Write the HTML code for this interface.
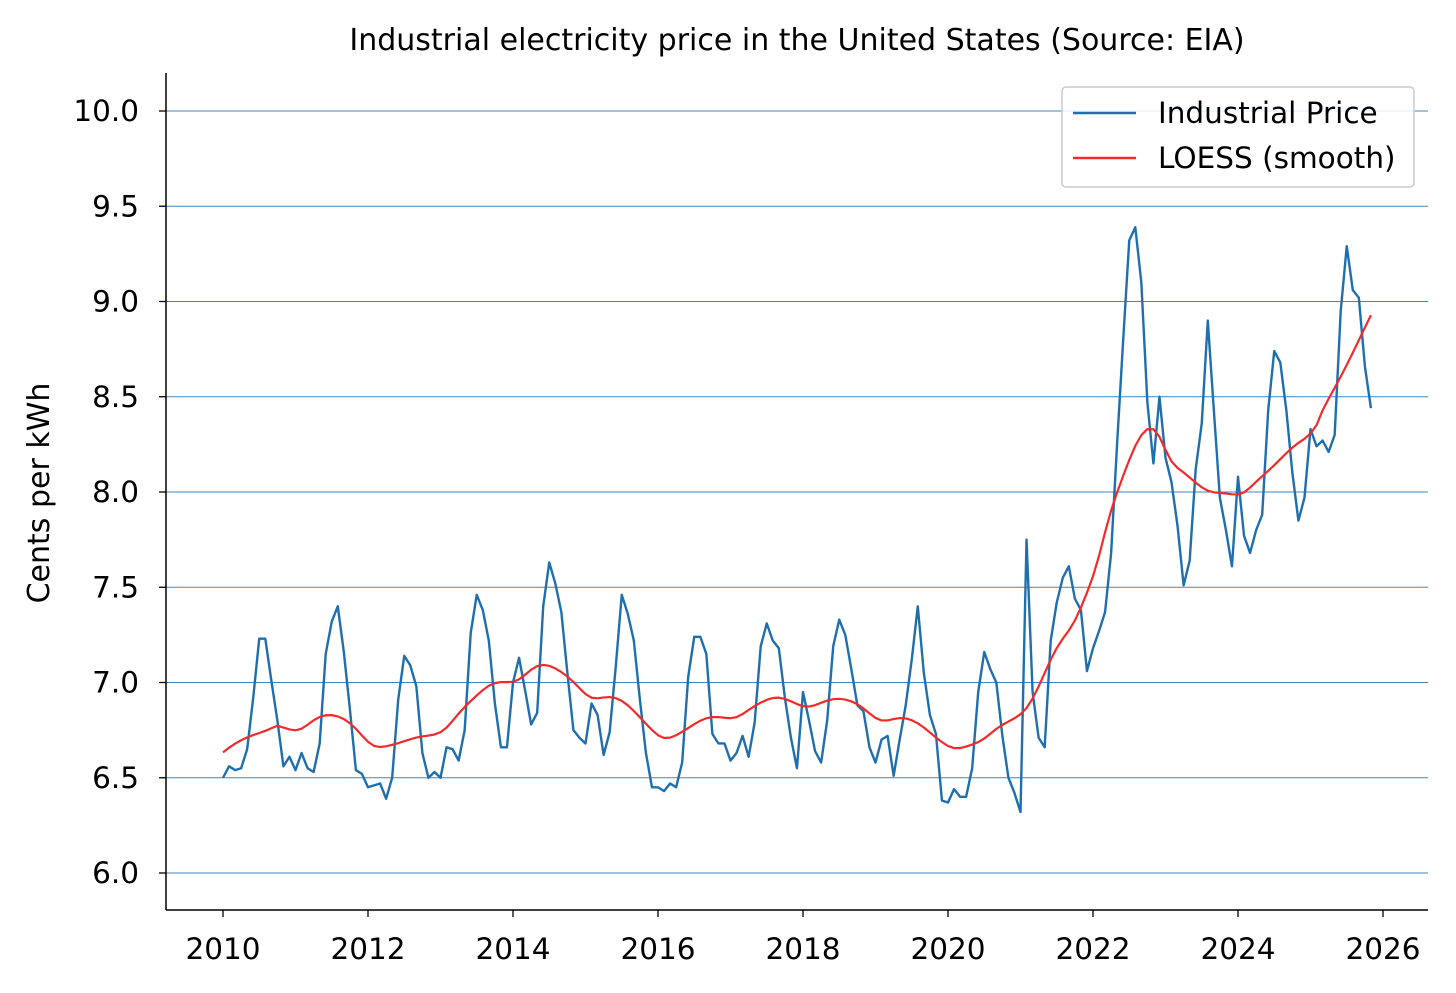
<!DOCTYPE html>
<html><head><meta charset="utf-8"><style>
body{margin:0;background:#fff;}
svg{display:block;font-family:"DejaVu Sans","Liberation Sans",sans-serif;}
</style></head><body>
<svg id="chart" width="1456" height="993" viewBox="0 0 1456 993">
<text x="797" y="50" text-anchor="middle" font-size="30">Industrial electricity price in the United States (Source: EIA)</text>
<text transform="translate(49,493) rotate(-90)" text-anchor="middle" font-size="30">Cents per kWh</text>
<g id="grid"></g>
<g id="yticks"></g>
<g id="xticks"></g>
<g id="series"></g>
<line x1="166" y1="73" x2="166" y2="910" stroke="#000" stroke-width="1.5"/>
<line x1="166" y1="910" x2="1428" y2="910" stroke="#000" stroke-width="1.5"/>
<g>
<rect x="1062" y="87" width="352" height="100" rx="4" fill="#fff" fill-opacity="0.85" stroke="#ccc" stroke-width="1.5"/>
<line x1="1073" y1="113" x2="1136" y2="113" stroke="#1f6faf" stroke-width="2.5"/>
<text x="1158" y="123" font-size="29.5">Industrial Price</text>
<line x1="1073" y1="158" x2="1136" y2="158" stroke="#f22a2a" stroke-width="2.5"/>
<text x="1158" y="168" font-size="29.5">LOESS (smooth)</text>
</g>
</svg>
<script>
const startYear = 2010;
const yTicks = [6.0, 6.5, 7.0, 7.5, 8.0, 8.5, 9.0, 9.5, 10.0];
const xTicks = [2010, 2012, 2014, 2016, 2018, 2020, 2022, 2024, 2026];
const p2010 = [6.50,6.56,6.54,6.55,6.65,6.92,7.23,7.23,7.01,6.80,6.56,6.61];
const p2011 = [6.54,6.63,6.55,6.53,6.68,7.15,7.32,7.40,7.16,6.86,6.54,6.52];
const p2012 = [6.45,6.46,6.47,6.39,6.50,6.91,7.14,7.09,6.98,6.63,6.50,6.53];
const p2013 = [6.50,6.66,6.65,6.59,6.75,7.26,7.46,7.38,7.22,6.89,6.66,6.66];
const p2014 = [7.00,7.13,6.96,6.78,6.84,7.40,7.63,7.52,7.37,7.05,6.75,6.71];
const p2015 = [6.68,6.89,6.83,6.62,6.74,7.08,7.46,7.36,7.22,6.91,6.63,6.45];
const p2016 = [6.45,6.43,6.47,6.45,6.58,7.03,7.24,7.24,7.15,6.73,6.68,6.68];
const p2017 = [6.59,6.63,6.72,6.61,6.79,7.19,7.31,7.22,7.18,6.92,6.71,6.55];
const p2018 = [6.95,6.80,6.64,6.58,6.80,7.19,7.33,7.25,7.07,6.88,6.85,6.66];
const p2019 = [6.58,6.70,6.72,6.51,6.70,6.88,7.12,7.40,7.05,6.83,6.73,6.38];
const p2020 = [6.37,6.44,6.40,6.40,6.55,6.95,7.16,7.07,7.00,6.72,6.50,6.42];
const p2021 = [6.32,7.75,6.95,6.71,6.66,7.22,7.42,7.55,7.61,7.44,7.38,7.06];
const p2022 = [7.18,7.27,7.37,7.68,8.26,8.80,9.32,9.39,9.10,8.47,8.15,8.50];
const p2023 = [8.18,8.05,7.82,7.51,7.64,8.12,8.36,8.90,8.43,7.97,7.80,7.61];
const p2024 = [8.08,7.77,7.68,7.80,7.88,8.43,8.74,8.68,8.43,8.10,7.85,7.97];
const p2025 = [8.33,8.24,8.27,8.21,8.30,8.95,9.29,9.06,9.02,8.66,8.44];
const prices = [].concat(p2010,p2011,p2012,p2013,p2014,p2015,p2016,p2017,p2018,p2019,p2020,p2021,p2022,p2023,p2024,p2025);

const NS = "http://www.w3.org/2000/svg";
const X0 = 223, PXY = 72.5, Y10 = 111, PXV = 190.5;
function xScale(t){ return X0 + (t - startYear) * PXY; }
function yScale(v){ return Y10 + (10 - v) * PXV; }
function mk(tag, attrs, parent){ const e = document.createElementNS(NS, tag); for (const k in attrs) e.setAttribute(k, attrs[k]); parent.appendChild(e); return e; }

const grid = document.getElementById('grid'), yt = document.getElementById('yticks'), xt = document.getElementById('xticks'), ser = document.getElementById('series');
yTicks.forEach(v => {
  const y = yScale(v);
  const g = mk('line', {x1:166, x2:1428, y1:y, y2:y, stroke:'#2f78b4', 'stroke-width':0.9, 'stroke-opacity':0.9}, grid);
  
  
  const tk = mk('line', {x1:159, x2:166, y1:y, y2:y, stroke:'#000', 'stroke-width':1.3}, yt);
  
  
  const tx = mk('text', {x:139, y:y+10, 'text-anchor':'end', 'font-size':29.5}, yt);
  
  
  tx.textContent = v.toFixed(1);
});
xTicks.forEach(t => {
  const x = xScale(t);
  const tk = mk('line', {x1:x, x2:x, y1:910, y2:917, stroke:'#000', 'stroke-width':1.3}, xt);
  
  
  const tx = mk('text', {x:x, y:959, 'text-anchor':'middle', 'font-size':29.5}, xt);
  
  
  tx.textContent = t;
});

const times = prices.map((_, i) => startYear + i / 12);
// LOWESS (local linear, tricube weights, robustness iterations)
function lowess(xs, ys, frac, iters){
  const n = xs.length, r = Math.max(3, Math.round(frac * n));
  let rw = new Array(n).fill(1), fit = [];
  for (let it=0; it<=iters; it++){
    fit = xs.map(x0 => {
      const d = xs.map(x => Math.abs(x - x0));
      const h = d.slice().sort((a,b)=>a-b)[r-1] * 1.0001;
      let sw=0, sx=0, sy=0, sxx=0, sxy=0;
      for (let i=0;i<n;i++){ const u=d[i]/h; if(u>=1) continue; const w=Math.pow(1-u*u*u,3)*rw[i];
        sw+=w; sx+=w*xs[i]; sy+=w*ys[i]; sxx+=w*xs[i]*xs[i]; sxy+=w*xs[i]*ys[i]; }
      const mx=sx/sw, my=sy/sw, vx=sxx/sw-mx*mx;
      const b = vx>1e-12 ? (sxy/sw-mx*my)/vx : 0;
      return my + b*(x0-mx);
    });
    const res = ys.map((y,i)=>Math.abs(y-fit[i]));
    const med = res.slice().sort((a,b)=>a-b)[Math.floor(n/2)] || 1e-9;
    rw = res.map(e => { const u = e/(6*med); return u<1 ? Math.pow(1-u*u,2) : 0; });
  }
  return fit;
}
const smooth = lowess(times, prices, 0.1, 3);

const pLine = mk('path', {d: prices.map((v,i)=>(i?'L':'M')+xScale(times[i]).toFixed(2)+','+yScale(v).toFixed(2)).join(''), fill:'none', stroke:'#1f6faf', 'stroke-width':2.4, 'stroke-linejoin':'round'}, ser);


const sLine = mk('path', {d: smooth.map((v,i)=>(i?'L':'M')+xScale(times[i]).toFixed(2)+','+yScale(v).toFixed(2)).join(''), fill:'none', stroke:'#f22a2a', 'stroke-width':2.2, 'stroke-linejoin':'round'}, ser);


</script>
</body></html>
